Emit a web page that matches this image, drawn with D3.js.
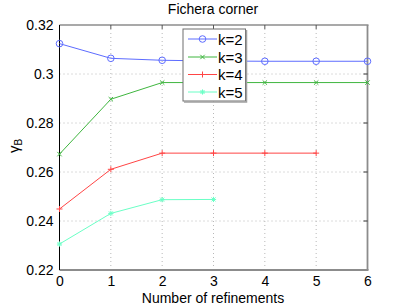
<!DOCTYPE html>
<html lang="en">
<head>
<meta charset="UTF-8">
<title>Fichera corner</title>
<script src="https://d3js.org/d3.v7.min.js"></script>
<style>
    body { margin: 0; background: #fff; }
    svg { display: block; font-family: "Liberation Sans", Arial, sans-serif; }
</style>
</head>
<body>
<div id="chart"></div>
<script>
    // values
    const names = ["k=2", "k=3", "k=4", "k=5"];
    const k2 = [0.3124, 0.3064, 0.3056, 0.3053, 0.3052, 0.3052, 0.3052];
    const k3 = [0.2673, 0.2897, 0.2965, 0.2965, 0.2965, 0.2965, 0.2965];
    const k4 = [0.2449, 0.2611, 0.2677, 0.2677, 0.2677, 0.2677];
    const k5 = [0.2306, 0.2431, 0.2487, 0.2488];
    const xTicks = [0, 1, 2, 3, 4, 5, 6];
    const yTicks = [0.22, 0.24, 0.26, 0.28, 0.30, 0.32];
    const yTickLabels = ["0.22", "0.24", "0.26", "0.28", "0.3", "0.32"];

    const colors = ["#5d6cff", "#3fb63f", "#ff4545", "#6bffc6"];
    const markers = ["circle", "x", "plus", "star"];
    const series = [k2, k3, k4, k5];

    const w = 407, h = 306;
    const padL = 59.5, padR = 367.5, padT = 25, padB = 270;

    const x = d3.scaleLinear().domain([0, 6]).range([padL, padR]);
    const y = d3.scaleLinear().domain([0.22, 0.32]).range([padB, padT]);

    const svg = d3.select("#chart").append("svg")
        .attr("width", w)
        .attr("height", h);

    // grid
    svg.append("g").selectAll("line")
        .data(xTicks.slice(1, -1))
        .join("line")
        .attr("x1", d => x(d)).attr("x2", d => x(d))
        .attr("y1", padT).attr("y2", padB)
        .attr("stroke", "#b8b8b8").attr("stroke-dasharray", "1,3");
    svg.append("g").selectAll("line")
        .data(yTicks.slice(1, -1))
        .join("line")
        .attr("y1", d => y(d)).attr("y2", d => y(d))
        .attr("x1", padL).attr("x2", padR)
        .attr("stroke", "#b8b8b8").attr("stroke-dasharray", "1,3");

    // box
    svg.append("line").attr("x1", padL).attr("x2", padR + 1).attr("y1", padT).attr("y2", padT)
        .attr("stroke", "#8c8c8c").attr("stroke-width", 1.5);
    svg.append("line").attr("x1", padR).attr("x2", padR).attr("y1", padT).attr("y2", padB)
        .attr("stroke", "#8c8c8c").attr("stroke-width", 1.8);
    svg.append("line").attr("x1", padL).attr("x2", padR + 1).attr("y1", padB).attr("y2", padB)
        .attr("stroke", "#8c8c8c").attr("stroke-width", 1.8);
    svg.append("line").attr("x1", padL).attr("x2", padL).attr("y1", padT).attr("y2", padB)
        .attr("stroke", "#000").attr("stroke-width", 1);

    // axes
    const xAxis = d3.axisBottom(x).tickValues(xTicks).tickSize(0).tickPadding(6)
        .tickFormat(d3.format("d"));
    const gx = svg.append("g").attr("transform", "translate(0," + padB + ")").call(xAxis);
    gx.select(".domain").remove();
    gx.selectAll("text").style("font-size", "14px").attr("fill", "#000").attr("dy", "0.71em");

    const yAxis = d3.axisLeft(y).tickValues(yTicks).tickSize(0).tickPadding(6)
        .tickFormat((d, i) => yTickLabels[i]);
    const gy = svg.append("g").attr("transform", "translate(" + padL + ",0)").call(yAxis);
    gy.select(".domain").remove();
    gy.selectAll("text").style("font-size", "14px").attr("fill", "#000");

    // small inward ticks on right and top
    svg.append("g").selectAll("line").data(yTicks.slice(1, -1)).join("line")
        .attr("x1", padR - 4).attr("x2", padR).attr("y1", d => y(d)).attr("y2", d => y(d))
        .attr("stroke", "#333");
    svg.append("g").selectAll("line").data(xTicks.slice(1, -1)).join("line")
        .attr("x1", d => x(d)).attr("x2", d => x(d)).attr("y1", padT).attr("y2", padT + 4)
        .attr("stroke", "#555");

    function drawMarker(g, type, cx, cy, color) {
        if (type === "circle") {
            g.append("circle").attr("cx", cx).attr("cy", cy).attr("r", 3.3)
                .attr("fill", "none").attr("stroke", color).attr("stroke-width", 1);
        } else if (type === "x") {
            const s = 2.2;
            g.append("path").attr("d", `M${cx - s},${cy - s}L${cx + s},${cy + s}M${cx - s},${cy + s}L${cx + s},${cy - s}`)
                .attr("stroke", color).attr("stroke-width", 1);
        } else if (type === "plus") {
            const s = 3;
            g.append("path").attr("d", `M${cx - s},${cy}L${cx + s},${cy}M${cx},${cy - s}L${cx},${cy + s}`)
                .attr("stroke", color).attr("stroke-width", 1);
        } else {
            const s = 2.6, d = 2;
            g.append("path").attr("d", `M${cx - s},${cy}L${cx + s},${cy}M${cx},${cy - s}L${cx},${cy + s}M${cx - d},${cy - d}L${cx + d},${cy + d}M${cx - d},${cy + d}L${cx + d},${cy - d}`)
                .attr("stroke", color).attr("stroke-width", 1);
        }
    }

    const line = d3.line().x((d, i) => x(i)).y(d => y(d));
    series.forEach((vals, si) => {
        const g = svg.append("g");
        g.append("path").datum(vals).attr("d", line)
            .attr("fill", "none").attr("stroke", colors[si]).attr("stroke-width", 1);
        vals.forEach((v, i) => drawMarker(g, markers[si], x(i), y(v), colors[si]));
    });

    // legend
    const lg = svg.append("g");
    lg.append("rect").attr("x", 183).attr("y", 29).attr("width", 62.5).attr("height", 72)
        .attr("fill", "#fff").attr("stroke", "#6e6e6e").attr("stroke-width", 1);
    lg.append("path").attr("d", "M246.5,30V102H184").attr("fill", "none")
        .attr("stroke", "#a0a0a0").attr("stroke-width", 1.5);
    const rowY = [39, 57, 74.5, 92];
    names.forEach((n, i) => {
        lg.append("line").attr("x1", 188).attr("x2", 217).attr("y1", rowY[i]).attr("y2", rowY[i])
            .attr("stroke", colors[i]).attr("stroke-width", 1);
        drawMarker(lg, markers[i], 202.5, rowY[i], colors[i]);
        lg.append("text").attr("x", 218).attr("y", rowY[i] + 5.5)
            .style("font-size", "15px").text(n);
    });

    // title and labels
    svg.append("text").attr("x", 213).attr("y", 13.5).attr("text-anchor", "middle")
        .style("font-size", "14px").text("Fichera corner");
    svg.append("text").attr("x", 213).attr("y", 302.5).attr("text-anchor", "middle")
        .style("font-size", "14px").text("Number of refinements");
    const yl = svg.append("text").attr("transform", "translate(19,146) rotate(-90)")
        .attr("text-anchor", "middle").style("font-size", "15px");
    yl.append("tspan").text("γ");
    yl.append("tspan").attr("dy", 3).style("font-size", "10px").text("B");
</script>
</body>
</html>
